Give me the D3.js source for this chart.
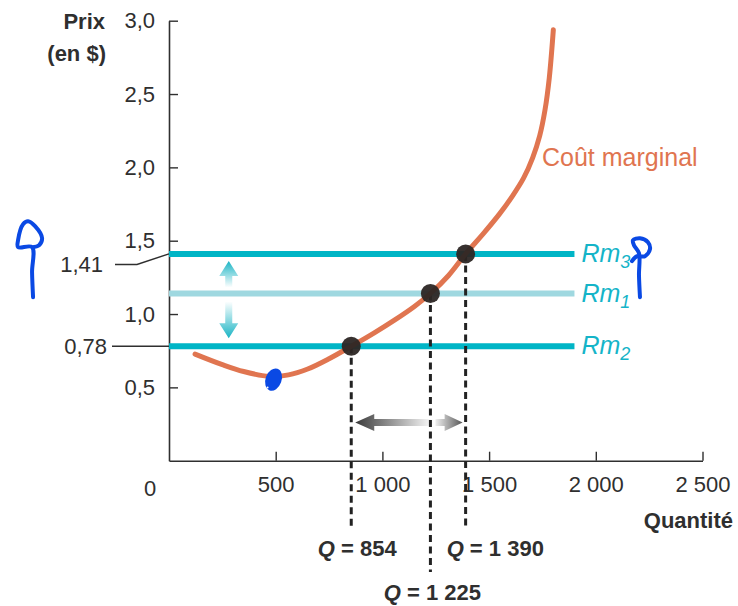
<!DOCTYPE html>
<html>
<head>
<meta charset="utf-8">
<script src="https://cdn.jsdelivr.net/npm/d3@7"></script>
<style>
  body { margin: 0; background: #fff; }
  svg { display: block; }
  text { font-family: "Liberation Sans", Arial, Helvetica, sans-serif; }
</style>
</head>
<body>
<svg id="chart" width="738" height="606"></svg>
<script>
// Marginal cost curve (quantity, price in $)
const mcQuantity = [122, 250, 350, 470, 560, 650, 750, 854, 960, 1060, 1150, 1225, 1310, 1390, 1474, 1549, 1610, 1662, 1704, 1737, 1762, 1782, 1801];
const mcPrice    = [0.727, 0.655, 0.608, 0.575, 0.585, 0.625, 0.695, 0.78, 0.87, 0.962, 1.052, 1.14, 1.263, 1.41, 1.55, 1.683, 1.806, 1.928, 2.065, 2.215, 2.392, 2.61, 2.938];

// Marginal revenue levels
const revenueSubscripts = ["3", "1", "2"];
const revenuePrices     = [1.41, 1.14, 0.78];
const revenueEnd        = 1900;

// Profit-maximising quantities where each revenue line meets the curve
const optimumQuantity = [1390, 1225, 854];
const optimumLabels   = ["Q = 1 390", "Q = 1 225", "Q = 854"];

// Axis ticks and highlighted prices
const xTicks = [500, 1000, 1500, 2000, 2500];
const yTicks = [0.5, 1.0, 1.5, 2.0, 2.5, 3.0];
const calloutPrices = [1.41, 0.78];

const svg = d3.select("#chart");

const x = d3.scaleLinear().domain([0, 2500]).range([169, 702.5]);
const y = d3.scaleLinear().domain([0, 3]).range([460.7, 20.7]);

const fr = d3.formatLocale({ decimal: ",", thousands: " ", grouping: [3], currency: ["", " $"] });
const fmtX = fr.format(",.0f");
const fmtY = fr.format(".1f");
const fmtY2 = fr.format(".2f");

const TEAL = "#00b5c6", TEAL_LIGHT = "#9fd8e0", TEAL_TEXT = "#14b4c8";
const ORANGE = "#e07550", INK = "#2f2f2f", DOT = "#2c2624", PEN = "#0a49e4";
const TICK_FS = 22;

const defs = svg.append("defs");

// ---- Axes ----
const yAxis = d3.axisLeft(y).tickValues(yTicks).tickFormat(fmtY)
  .tickSizeInner(-9).tickSizeOuter(0).tickPadding(13);
const gy = svg.append("g").attr("transform", `translate(${x(0)},0)`).call(yAxis);
gy.selectAll("text").attr("font-size", TICK_FS).attr("fill", INK).attr("dx", "-1");

const xAxis = d3.axisBottom(x).tickValues(xTicks).tickFormat(fmtX)
  .tickSizeInner(-9).tickSizeOuter(0).tickPadding(16);
const gx = svg.append("g").attr("transform", `translate(0,${y(0)})`).call(xAxis);
gx.selectAll("text").attr("font-size", TICK_FS).attr("fill", INK).attr("dy", "0.68em");

[gx, gy].forEach(g => {
  g.select(".domain").attr("stroke", INK).attr("stroke-width", 1.6);
  g.selectAll(".tick line").attr("stroke", INK).attr("stroke-width", 1.4);
});

// Shared origin label
svg.append("text").attr("x", 150).attr("y", y(0) + 35)
  .attr("text-anchor", "middle").attr("font-size", TICK_FS).attr("fill", INK).text(fmtX(0));

// Axis titles
svg.append("text").attr("x", 105).attr("y", 29).attr("text-anchor", "end")
  .attr("font-size", 22).attr("font-weight", 700).attr("fill", INK).text("Prix");
svg.append("text").attr("x", 106).attr("y", 61).attr("text-anchor", "end")
  .attr("font-size", 22).attr("font-weight", 700).attr("fill", INK).text("(en $)");
svg.append("text").attr("x", 733).attr("y", 528).attr("text-anchor", "end")
  .attr("font-size", 22).attr("font-weight", 700).attr("fill", INK).text("Quantité");

// Price callouts on the vertical axis (1,41 sits below its leader)
calloutPrices.forEach((p, i) => {
  const py = y(p);
  if (i === 0) {
    svg.append("path").attr("d", `M115,${py + 10.5}H137L${x(0)},${py}`)
      .attr("fill", "none").attr("stroke", INK).attr("stroke-width", 1.5);
    svg.append("text").attr("x", 103).attr("y", py + 10.5).attr("dy", "0.35em")
      .attr("text-anchor", "end").attr("font-size", TICK_FS).attr("fill", INK).text(fmtY2(p));
  } else {
    svg.append("path").attr("d", `M112,${py}H${x(0)}`)
      .attr("fill", "none").attr("stroke", INK).attr("stroke-width", 1.5);
    svg.append("text").attr("x", 107).attr("y", py).attr("dy", "0.35em")
      .attr("text-anchor", "end").attr("font-size", TICK_FS).attr("fill", INK).text(fmtY2(p));
  }
});

// ---- Gradient arrows ----
function gradientArrow(id, x1, y1, x2, y2, colTail, colTip, shaftW, headW, headL) {
  // arrow from tail (x1,y1) to tip (x2,y2)
  const g = defs.append("linearGradient").attr("id", id)
    .attr("gradientUnits", "userSpaceOnUse")
    .attr("x1", x1).attr("y1", y1).attr("x2", x2).attr("y2", y2);
  g.append("stop").attr("offset", 0).attr("stop-color", colTail);
  g.append("stop").attr("offset", 1).attr("stop-color", colTip);
  const dx = x2 - x1, dy = y2 - y1, len = Math.hypot(dx, dy);
  const ux = dx / len, uy = dy / len, nx = -uy, ny = ux;
  const bx = x2 - ux * headL, by = y2 - uy * headL;
  const pts = [
    [x1 + nx * shaftW / 2, y1 + ny * shaftW / 2],
    [bx + nx * shaftW / 2, by + ny * shaftW / 2],
    [bx + nx * headW / 2, by + ny * headW / 2],
    [x2, y2],
    [bx - nx * headW / 2, by - ny * headW / 2],
    [bx - nx * shaftW / 2, by - ny * shaftW / 2],
    [x1 - nx * shaftW / 2, y1 - ny * shaftW / 2]
  ];
  svg.append("path").attr("d", "M" + pts.map(p => p.join(",")).join("L") + "Z")
    .attr("fill", `url(#${id})`);
}

// Revenue shifts: from Rm1 up to Rm3 and down to Rm2
const arrowQ = 280;
gradientArrow("upArrow", x(arrowQ), y(revenuePrices[1]) - 6, x(arrowQ), y(revenuePrices[0]) + 7,
  "#ffffff", "#19b4c4", 7, 19, 15);
gradientArrow("downArrow", x(arrowQ), y(revenuePrices[1]) + 8, x(arrowQ), y(revenuePrices[2]) - 8,
  "#ffffff", "#19b4c4", 7, 19, 15);

// Quantity shifts: from Q at Rm1 to the left and right optimum
const arrowP = 0.26;
gradientArrow("leftArrow", x(optimumQuantity[1]) + 3, y(arrowP), x(optimumQuantity[2]) + 4, y(arrowP),
  "#ffffff", "#3a3a3a", 7, 17, 19);
gradientArrow("rightArrow", x(optimumQuantity[1]) + 5, y(arrowP), x(optimumQuantity[0]) - 3, y(arrowP),
  "#f0f0f0", "#555555", 7, 17, 18);

// ---- Marginal revenue lines ----
const revColors = [TEAL, TEAL_LIGHT, TEAL];
revenuePrices.forEach((p, i) => {
  svg.append("line")
    .attr("x1", x(0)).attr("x2", x(revenueEnd))
    .attr("y1", y(p)).attr("y2", y(p))
    .attr("stroke", revColors[i]).attr("stroke-width", 6);
  const t = svg.append("text").attr("x", x(revenueEnd) + 7).attr("y", y(p) + 8)
    .attr("font-size", 25).attr("font-style", "italic").attr("fill", TEAL_TEXT);
  t.append("tspan").text("Rm");
  t.append("tspan").attr("font-size", 18).attr("dy", 6).text(revenueSubscripts[i]);
});

// ---- Dashed drop lines ----
const dropEnds = [528, 572, 528];
optimumQuantity.forEach((q, i) => {
  svg.append("line")
    .attr("x1", x(q)).attr("x2", x(q))
    .attr("y1", y(revenuePrices[i])).attr("y2", dropEnds[i])
    .attr("stroke", "#222").attr("stroke-width", 3).attr("stroke-dasharray", "7,4.5");
});

// ---- Marginal cost curve ----
const mcData = mcQuantity.map((q, i) => [q, mcPrice[i]]);
svg.append("path")
  .datum(mcData)
  .attr("d", d3.line().x(d => x(d[0])).y(d => y(d[1])).curve(d3.curveCatmullRom.alpha(0.5)))
  .attr("fill", "none").attr("stroke", ORANGE).attr("stroke-width", 5)
  .attr("stroke-linecap", "round");

svg.append("text").attr("x", 542).attr("y", 166)
  .attr("font-size", 25).attr("fill", ORANGE).text("Coût marginal");

// ---- Optimum points ----
optimumQuantity.forEach((q, i) => {
  svg.append("circle").attr("cx", x(q)).attr("cy", y(revenuePrices[i])).attr("r", 9.5)
    .attr("fill", DOT).attr("fill-opacity", 0.95);
});

// ---- Quantity labels ----
const labelPos = [
  { anchor: "start", dx: -19, y: 556 },
  { anchor: "middle", dx: 2, y: 600 },
  { anchor: "middle", dx: 6, y: 556 }
];
optimumQuantity.forEach((q, i) => {
  const lp = labelPos[i];
  const parts = optimumLabels[i].split(" = ");
  const t = svg.append("text").attr("x", x(q) + lp.dx).attr("y", lp.y)
    .attr("text-anchor", lp.anchor).attr("font-size", 22).attr("font-weight", 700).attr("fill", INK);
  t.append("tspan").attr("font-style", "italic").text(parts[0]);
  t.append("tspan").text(" = " + parts[1]);
});

// ---- Hand-drawn pen marks ----
function penMark(q, p, offsets) {
  const ax = x(q), ay = y(p);
  svg.append("path")
    .attr("d", d3.line().curve(d3.curveCatmullRom)(offsets.map(o => [ax + o[0], ay + o[1]])))
    .attr("fill", "none").attr("stroke", PEN).attr("stroke-width", 4)
    .attr("stroke-linecap", "round").attr("stroke-linejoin", "round");
}
penMark(-637, 1.115, [[0, 0], [-1, -25], [-1, -50], [-15, -50], [-15, -57], [-10, -73], [-5, -76], [2, -71], [9, -59], [6, -52], [-1, -50]]);
penMark(2207, 1.115, [[0, 0], [-1, -22], [-1, -44], [-6, -52], [-7, -57], [0, -59], [8, -55], [10, -48], [5, -41], [-3, -41], [-8, -36]]);

const blob = { q: 490, p: 0.553 };
svg.append("ellipse").attr("cx", x(blob.q)).attr("cy", y(blob.p))
  .attr("rx", 8).attr("ry", 11.5)
  .attr("transform", `rotate(20,${x(blob.q)},${y(blob.p)})`)
  .attr("fill", PEN);
svg.append("circle").attr("cx", x(blob.q) - 6).attr("cy", y(blob.p) + 8).attr("r", 1).attr("fill", "#fff");
</script>
</body>
</html>
